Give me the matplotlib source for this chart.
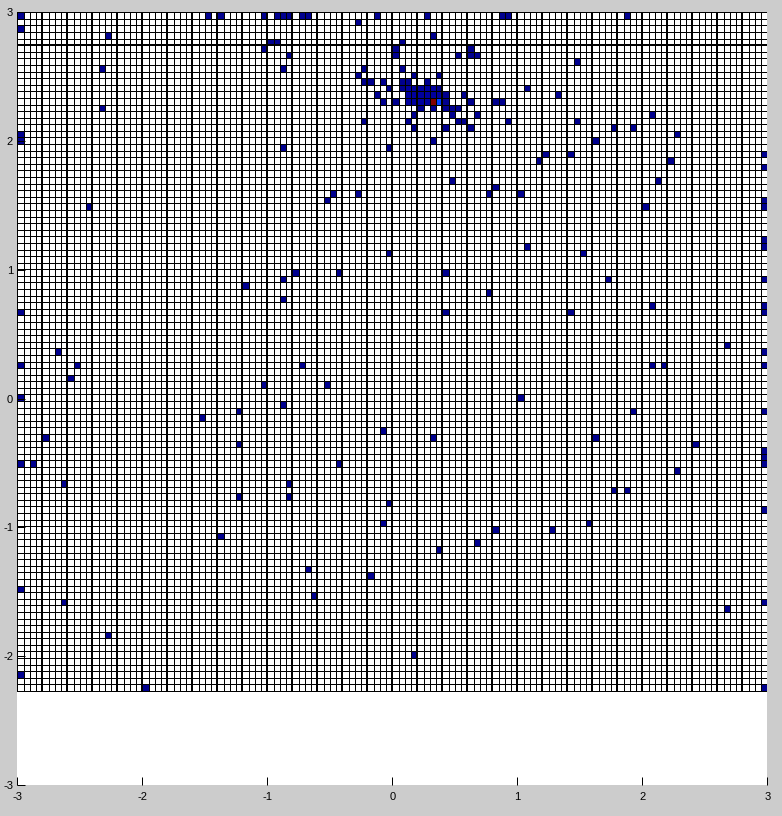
import numpy as np
import matplotlib
matplotlib.use("Agg")
import matplotlib.pyplot as plt
from matplotlib.colors import ListedColormap, Normalize

# occupancy grid: 120 columns (x -3..3), 103 rows counted from the top (y 3..-2.27)
x_lim = [-3, 3]
y_lim = [-3, 3]
grid_x = [-3.0, 3.0]
grid_y = [3.0, -2.27]
n_cols = 120
n_rows = 103

# occupied cells, one line per grid row (row index, column indices)
cells = [
    (0, [0, 30, 32, 39, 41, 42, 43, 45, 46, 57, 65, 77, 78, 97]),
    (1, [54]),
    (2, [0]),
    (3, [14, 66]),
    (4, [40, 41, 61]),
    (5, [39, 60, 72]),
    (6, [43, 60, 70, 72, 73]),
    (7, [89]),
    (8, [13, 42, 55, 61]),
    (9, [54, 63, 67]),
    (10, [55, 56, 58, 61, 62, 65]),
    (11, [59, 61, 62, 63, 64, 65, 66, 67, 81]),
    (12, [57, 62, 63, 64, 65, 66, 67, 68, 71, 86]),
    (13, [58, 60, 62, 63, 64, 65, 66, 67, 68, 72, 76, 77]),
    (14, [13, 64, 66, 68, 69, 70]),
    (15, [63, 69, 73, 101]),
    (16, [55, 62, 70, 71, 78, 89]),
    (17, [63, 68, 72, 95, 98]),
    (18, [0, 105]),
    (19, [0, 66, 92]),
    (20, [42, 59]),
    (21, [84, 88, 119]),
    (22, [83, 104]),
    (23, [119]),
    (25, [69, 102]),
    (26, [76]),
    (27, [50, 54, 75, 80]),
    (28, [49, 119]),
    (29, [11, 100, 119]),
    (34, [119]),
    (35, [81, 119]),
    (36, [59, 90]),
    (39, [44, 51, 68]),
    (40, [42, 94, 119]),
    (41, [36]),
    (42, [75]),
    (43, [42]),
    (44, [101, 119]),
    (45, [0, 68, 88, 119]),
    (50, [113]),
    (51, [6, 119]),
    (53, [0, 9, 45, 101, 103, 119]),
    (55, [8]),
    (56, [39, 49]),
    (58, [0, 80]),
    (59, [42]),
    (60, [35, 98, 119]),
    (61, [29]),
    (63, [58]),
    (64, [4, 66, 92]),
    (65, [35, 108]),
    (66, [119]),
    (67, [119]),
    (68, [0, 2, 51, 119]),
    (69, [105]),
    (71, [7, 43]),
    (72, [95, 97]),
    (73, [35, 43]),
    (74, [59]),
    (75, [119]),
    (77, [58, 91]),
    (78, [76, 85]),
    (79, [32]),
    (80, [73]),
    (81, [67]),
    (84, [46]),
    (85, [56]),
    (87, [0]),
    (88, [47]),
    (89, [7, 119]),
    (90, [113]),
    (94, [14]),
    (97, [63]),
    (100, [0]),
    (102, [20, 119]),
]

# cells with higher counts (row, col, count); all other occupied cells count 1
peak_cells = [
    (11, 62, 2), (11, 63, 2), (11, 64, 2), (11, 65, 2), (11, 66, 2),
    (12, 62, 2), (12, 63, 2), (12, 64, 2), (12, 65, 2), (12, 66, 2), (12, 67, 2),
    (13, 62, 2), (13, 63, 2), (13, 64, 2), (13, 65, 2),
    (13, 67, 8),
    (13, 66, 40),
]

xticks = [-3, -2, -1, 0, 1, 2, 3]
yticks = [-3, -2, -1, 0, 1, 2, 3]

Z = np.full((n_rows, n_cols), np.nan)
for r, cols in cells:
    for c in cols:
        Z[r, c] = 1
for r, c, v in peak_cells:
    Z[r, c] = v
Z = np.ma.masked_invalid(Z)

x_edges = np.linspace(grid_x[0], grid_x[1], n_cols + 1)
y_edges = np.linspace(grid_y[0], grid_y[1], n_rows + 1)

# MATLAB style jet(64)
t = np.arange(1, 65) / 64.0
r_ = np.clip(np.minimum(4 * t - 1.5, -4 * t + 4.5), 0, 1)
g_ = np.clip(np.minimum(4 * t - 0.5, -4 * t + 3.5), 0, 1)
b_ = np.clip(np.minimum(4 * t + 0.5, -4 * t + 2.5), 0, 1)
cmap = ListedColormap(np.column_stack([r_, g_, b_]))
cmap.set_bad('white')

plt.rcParams['font.family'] = ['Liberation Sans', 'DejaVu Sans']
plt.rcParams['axes.unicode_minus'] = False

fig = plt.figure(figsize=(7.82, 8.16), dpi=100)
fig.patch.set_facecolor('#cccccc')
ax = fig.add_axes([17.3 / 782, 31 / 816, 750 / 782, 772.7 / 816])
ax.set_facecolor('white')

ax.pcolormesh(x_edges, y_edges, Z, cmap=cmap, norm=Normalize(1, 40),
              edgecolors='black', linewidth=0.72, antialiased=False)
# heavier grid lines where the screen rendering doubled them
ax.vlines(x_edges[4:-1:4], grid_y[1], grid_y[0], colors='black', linewidth=1.44, antialiased=False)
ax.hlines(y_edges[5], grid_x[0], grid_x[1], colors='black', linewidth=1.44, antialiased=False)

ax.set_xlim(x_lim)
ax.set_ylim(y_lim)
ax.set_xticks(xticks)
ax.set_yticks(yticks)
for s in ax.spines.values():
    s.set_visible(False)
ax.tick_params(direction='in', length=5.5, width=0.72, labelsize=8, colors='black')
ax.tick_params(axis='x', pad=5)
ax.tick_params(axis='y', pad=3)

fig.savefig('out.png', dpi=100, facecolor=fig.get_facecolor())
